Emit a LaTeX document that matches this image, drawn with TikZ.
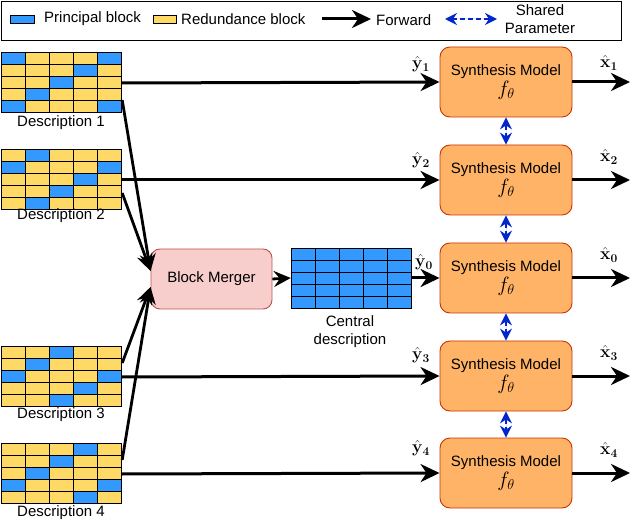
\documentclass[tikz,border=0pt]{standalone}
\usepackage{amsmath}
\usepackage[no-math]{fontspec}
\setmainfont{Liberation Sans}
\usetikzlibrary{arrows.meta,calc}
\definecolor{pblue}{HTML}{3399FF}
\definecolor{ryellow}{HTML}{FFD966}
\definecolor{synfill}{HTML}{FFB366}
\definecolor{syndraw}{HTML}{C73500}
\definecolor{merfill}{HTML}{F8CECC}
\definecolor{merdraw}{HTML}{B85450}
\definecolor{darrow}{HTML}{0026CC}
\tikzset{
  fwd/.style={line width=3pt,-{Stealth[length=19pt,width=18pt,inset=6pt]}},
  mfwd/.style={line width=2.8pt,-{Stealth[length=17pt,width=16pt,inset=6pt]}},
  shared/.style={draw=darrow,fill=darrow,line width=1.5pt,dash pattern=on 5pt off 3pt,{Stealth[length=12pt,width=12pt,inset=4pt]}-{Stealth[length=12pt,width=12pt,inset=4pt]}},
  synth/.style={draw=syndraw,fill=synfill,line width=0.9pt,rounded corners=10pt,minimum width=132pt,minimum height=70pt,align=center,font=\fontsize{15}{20}\selectfont,inner sep=0pt},
  merger/.style={draw=merdraw,fill=merfill,line width=0.9pt,rounded corners=9pt,minimum width=121pt,minimum height=60pt,font=\fontsize{15}{17}\selectfont},
  gridarea/.style={minimum width=120pt,minimum height=60pt,inner sep=0pt},
  lbl/.style={font=\fontsize{15}{17}\selectfont,inner sep=0pt},
  mlbl/.style={font=\fontsize{17}{19}\selectfont,inner sep=0pt},
  cellP/.style={fill=pblue,draw=black,line width=0.9pt},
  cellR/.style={fill=ryellow,draw=black,line width=0.9pt},
}
\newcommand\mygrid[3]{% x left, y top, rows
  \foreach [count=\r] \row in {#3} {
    \foreach [count=\c] \v in \row {
      \ifnum\v=1
        \draw[cellP] ({#1+(\c-1)*24},{#2+(\r-1)*12}) rectangle ++(24,12);
      \else
        \draw[cellR] ({#1+(\c-1)*24},{#2+(\r-1)*12}) rectangle ++(24,12);
      \fi
    }
  }
}
\newcommand\ftheta{{\fontsize{20}{22}\selectfont$f_\theta$}}
\begin{document}
\begin{tikzpicture}[x=1pt,y=-1pt]
\useasboundingbox (0,0) rectangle (641,524);
% legend
\node[draw=black,line width=0.8pt,minimum width=620pt,minimum height=39pt,inner sep=0pt] (legend) at (311,20.5) {};
\draw[cellP] (10,15) rectangle (34,23);
\node[lbl,anchor=west] (lp) at (44,19) {Principal block};
\draw[cellR] (153,15) rectangle (176,23);
\node[lbl,anchor=west] (lr) at (181,19) {Redundance block};
\coordinate (la1) at (322,19);
\coordinate (la2) at (371,19);
\draw[fwd] (la1) -- (la2);
\node[lbl,anchor=west] (lf) at (376,20) {Forward};
\coordinate (ld1) at (445,19);
\coordinate (ld2) at (497,19);
\draw[shared] (ld1) -- (ld2);
\node[lbl,align=center,font=\fontsize{15}{18}\selectfont] (ls) at (540,19) {Shared\\Parameter};

% description grids
\node[gridarea] (d1) at (61,82) {};
\mygrid{1}{52}{{1,0,0,0,1},{0,0,0,1,0},{0,0,1,0,0},{0,1,0,0,0},{1,0,0,0,1}}
\node[lbl] (t1) at (61,123) {Description 1};
\node[gridarea] (d2) at (61,179) {};
\mygrid{1}{149}{{0,1,0,0,0},{1,0,0,0,1},{0,0,0,1,0},{0,0,1,0,0},{0,1,0,0,0}}
\node[lbl] (t2) at (61,216) {Description 2};
\node[gridarea] (d3) at (61,376) {};
\mygrid{1}{346}{{0,0,1,0,0},{0,1,0,0,0},{1,0,0,0,1},{0,0,0,1,0},{0,0,1,0,0}}
\node[lbl] (t3) at (61,415) {Description 3};
\node[gridarea] (d4) at (61,473) {};
\mygrid{1}{443}{{0,0,0,1,0},{0,0,1,0,0},{0,1,0,0,0},{1,0,0,0,1},{0,0,0,1,0}}
\node[lbl] (t4) at (61,513) {Description 4};

% central description
\node[gridarea,minimum width=121pt] (cd) at (351.5,278) {};
\mygrid{291}{248}{{1,1,1,1,1},{1,1,1,1,1},{1,1,1,1,1},{1,1,1,1,1},{1,1,1,1,1}}
\node[lbl,align=center,font=\fontsize{15}{18}\selectfont] (ct) at (350,332) {Central\\description};

% block merger
\node[merger] (bm) at (211.5,279) {Block Merger};

% synthesis models
\node[synth] (s1) at (506,82) {Synthesis Model\\\ftheta};
\node[synth] (s2) at (506,180) {Synthesis Model\\\ftheta};
\node[synth] (s0) at (506,278) {Synthesis Model\\\ftheta};
\node[synth] (s3) at (506,376) {Synthesis Model\\\ftheta};
\node[synth] (s4) at (506,473) {Synthesis Model\\\ftheta};

% outputs
\coordinate (o1) at (630,82);
\coordinate (o2) at (630,180);
\coordinate (o0) at (630,278);
\coordinate (o3) at (630,376);
\coordinate (o4) at (630,473);
\draw[fwd] (s1.east) -- (o1);
\draw[fwd] (s2.east) -- (o2);
\draw[fwd] (s0.east) -- (o0);
\draw[fwd] (s3.east) -- (o3);
\draw[fwd] (s4.east) -- (o4);

% inputs
\draw[fwd] ($(d1.east)+(1,1)$) -- (s1.west);
\draw[fwd] ($(d2.east)+(1,1)$) -- (s2.west);
\draw[fwd] (cd.east) -- (s0.west);
\draw[fwd] ($(d3.east)+(1,1)$) -- (s3.west);
\draw[fwd] ($(d4.east)+(1,1)$) -- (s4.west);
\draw[mfwd] (bm.east) -- (cd.west);

% to merger
\draw[mfwd] ($(d1.east)+(1,18)$) -- ($(bm.west)+(0,-8)$);
\draw[mfwd] ($(d2.east)+(1,14)$) -- ($(bm.west)+(0,-8)$);
\draw[mfwd] ($(d3.east)+(1,-13)$) -- ($(bm.west)+(0,8)$);
\draw[mfwd] ($(d4.east)+(1,-13)$) -- ($(bm.west)+(0,8)$);

% labels
\node[mlbl] (y1) at (421,64) {$\hat{\mathbf{y}}_{\mathbf{1}}$};
\node[mlbl] (y2) at (421,160) {$\hat{\mathbf{y}}_{\mathbf{2}}$};
\node[mlbl] (y0) at (424,262) {$\hat{\mathbf{y}}_{\mathbf{0}}$};
\node[mlbl] (y3) at (421,355) {$\hat{\mathbf{y}}_{\mathbf{3}}$};
\node[mlbl] (y4) at (421,448) {$\hat{\mathbf{y}}_{\mathbf{4}}$};
\node[mlbl] (x1) at (609,63) {$\hat{\mathbf{x}}_{\mathbf{1}}$};
\node[mlbl] (x2) at (609,157) {$\hat{\mathbf{x}}_{\mathbf{2}}$};
\node[mlbl] (x0) at (609,255) {$\hat{\mathbf{x}}_{\mathbf{0}}$};
\node[mlbl] (x3) at (609,353) {$\hat{\mathbf{x}}_{\mathbf{3}}$};
\node[mlbl] (x4) at (609,450) {$\hat{\mathbf{x}}_{\mathbf{4}}$};

% shared params
\draw[shared] (s1.south) -- (s2.north);
\draw[shared] (s2.south) -- (s0.north);
\draw[shared] (s0.south) -- (s3.north);
\draw[shared] (s3.south) -- (s4.north);
\end{tikzpicture}
\end{document}
